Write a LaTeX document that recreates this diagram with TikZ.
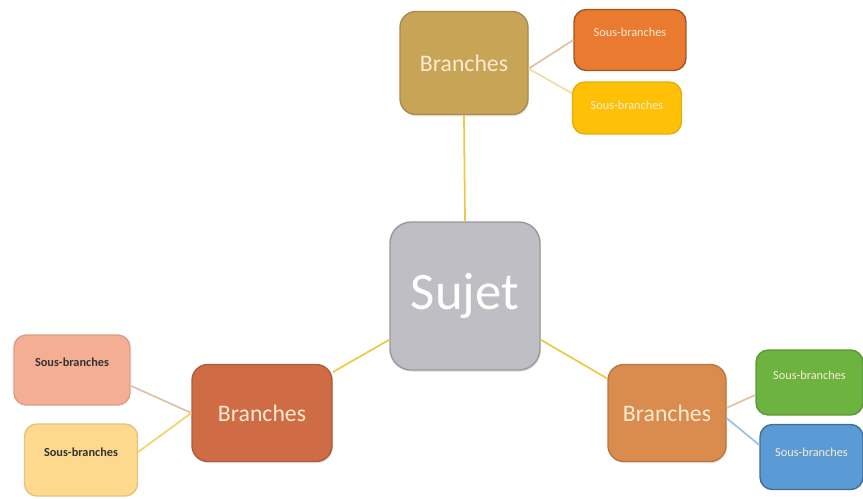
\documentclass[tikz,border=0pt]{standalone}
\usepackage{fontspec}
\setmainfont{Carlito}
\usetikzlibrary{shadows}

\definecolor{or}{HTML}{C8A456}
\definecolor{gris}{HTML}{BEBEC4}
\definecolor{brique}{HTML}{CF6B45}
\definecolor{cuivre}{HTML}{D98C4E}
\definecolor{orange}{HTML}{E97A2F}
\definecolor{jaune}{HTML}{FFC107}
\definecolor{saumon}{HTML}{F4AE93}
\definecolor{creme}{HTML}{FDD98E}
\definecolor{vert}{HTML}{6DB33F}
\definecolor{bleu}{HTML}{5B9BD5}
\definecolor{lienjaune}{HTML}{EBCB45}
\definecolor{lientan}{HTML}{DEC3A6}
\definecolor{lienbleu}{HTML}{9DC1E3}
\definecolor{textecreme}{HTML}{FCEBD2}

\begin{document}
\begin{tikzpicture}[x=0.02cm,y=-0.02cm,
    box/.style={draw, line width=0.8pt, rounded corners=7pt, align=center, inner sep=0pt},
    branche/.style={box, rounded corners=9pt, text=textecreme, font=\fontsize{13.5}{15}\selectfont,
        drop shadow={opacity=0.2, shadow xshift=0.5pt, shadow yshift=-1pt}},
    sousbranche/.style={box, font=\fontsize{7}{8}\selectfont, text depth=0.3cm},
    lien/.style={line width=1pt}]
    \useasboundingbox (0,0) rectangle (863,498);
    % centre
    \node[branche, fill=gris, draw=gris!80!black, text=white, rounded corners=12pt,
        font=\fontsize{30}{32}\selectfont, minimum width=3cm, minimum height=2.96cm] (sujet) at (465,296) {Sujet};
    % branches
    \node[branche, fill=or, draw=or!85!black, minimum width=2.56cm, minimum height=2.06cm] (haut) at (464,63) {Branches};
    \node[branche, fill=brique, draw=brique!85!black, minimum width=2.8cm, minimum height=1.94cm] (gauche) at (262,413) {Branches};
    \node[branche, fill=cuivre, draw=cuivre!85!black, minimum width=2.36cm, minimum height=1.94cm] (droite) at (667,413) {Branches};
    % sous-branches
    \node[sousbranche, fill=orange, draw=orange!70!black, text=textecreme, minimum width=2.24cm, minimum height=1.22cm] (haut1) at (630,40) {Sous-branches};
    \node[sousbranche, fill=jaune, draw=jaune!90!black, text=textecreme, text depth=0.1cm, minimum width=2.18cm, minimum height=1.04cm] (haut2) at (627,108) {Sous-branches};
    \node[sousbranche, fill=saumon, draw=saumon!90!black, text=black!80, font=\fontsize{7}{8}\selectfont\bfseries, minimum width=2.32cm, minimum height=1.4cm] (gauche1) at (72,370) {Sous-branches};
    \node[sousbranche, fill=creme, draw=creme!90!black, text=black!80, font=\fontsize{7}{8}\selectfont\bfseries, minimum width=2.26cm, minimum height=1.44cm] (gauche2) at (81,460) {Sous-branches};
    \node[sousbranche, fill=vert, draw=vert!85!black, text=textecreme, minimum width=2.14cm, minimum height=1.3cm] (droite1) at (809.5,382.5) {Sous-branches};
    \node[sousbranche, fill=bleu, draw=bleu!70!black, text=textecreme, text depth=0.2cm, minimum width=2.06cm, minimum height=1.3cm] (droite2) at (811.5,457) {Sous-branches};
    % liens
    \draw[lien, lienjaune] (sujet.north) -- (haut.south);
    \draw[lien, lienjaune] (sujet.210) -- (gauche.30);
    \draw[lien, lienjaune] (sujet.-30) -- (droite.150);
    \draw[lien, lientan] (haut.-5) -- (haut1.west);
    \draw[lien, lientan!50!lienjaune!60] (haut.-5) -- (haut2.165);
    \draw[lien, lientan] (gauche.west) -- (gauche1.-15);
    \draw[lien, lienjaune!80] (gauche.west) -- (gauche2.8);
    \draw[lien, lientan] (droite.5) -- (droite1.193);
    \draw[lien, lienbleu] (droite.-5) -- (droite2.167);
\end{tikzpicture}
\end{document}
